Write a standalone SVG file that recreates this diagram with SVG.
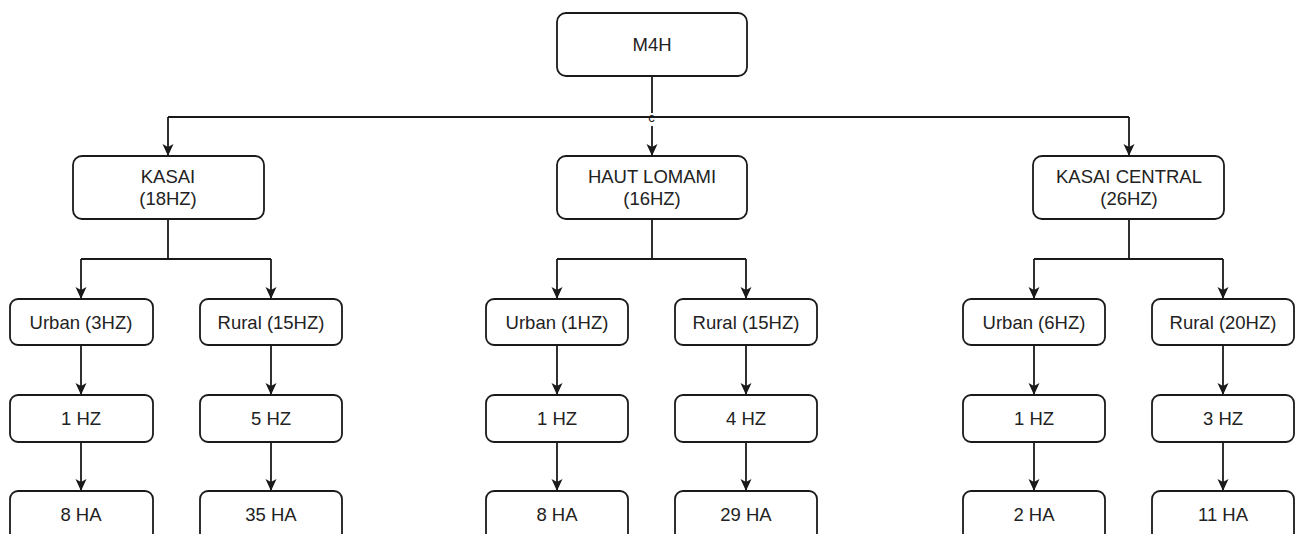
<svg xmlns="http://www.w3.org/2000/svg" width="1296" height="534" viewBox="0 0 1296 534">
<defs>
<style>
.box{fill:#fff;stroke:#1a1a1a;stroke-width:1.8}
.t{font-family:"Liberation Sans",Arial,sans-serif;font-size:18.5px;fill:#222;text-anchor:middle}
.ln{fill:none;stroke:#1a1a1a;stroke-width:1.8}
.ar{fill:none;stroke:#1a1a1a;stroke-width:1.8;marker-end:url(#ah)}
</style>
<marker id="ah" viewBox="0 0 12 12" refX="11" refY="6" markerWidth="12" markerHeight="12" markerUnits="userSpaceOnUse" orient="auto">
<path d="M0,0.5 L12,6 L0,11.5 L3,6 Z" fill="#1a1a1a"/>
</marker>
</defs>
<rect width="1296" height="534" fill="#fff"/>
<g id="connectors">
<path class="ln" d="M652,76 V113 M168,117 H1129"/>
<path class="ar" d="M168,117 V155"/>
<path class="ar" d="M652,126 V155"/>
<path class="ar" d="M1129,117 V155"/>
<path class="ln" d="M168,219 V259 M81,259 H271"/>
<path class="ar" d="M81,259 V298"/>
<path class="ar" d="M271,259 V298"/>
<path class="ln" d="M652,219 V259 M557,259 H746"/>
<path class="ar" d="M557,259 V298"/>
<path class="ar" d="M746,259 V298"/>
<path class="ln" d="M1129,219 V259 M1034,259 H1223"/>
<path class="ar" d="M1034,259 V298"/>
<path class="ar" d="M1223,259 V298"/>
<path class="ar" d="M81,345 V394"/>
<path class="ar" d="M271,345 V394"/>
<path class="ar" d="M557,345 V394"/>
<path class="ar" d="M746,345 V394"/>
<path class="ar" d="M1034,345 V394"/>
<path class="ar" d="M1223,345 V394"/>
<path class="ar" d="M81,442 V490"/>
<path class="ar" d="M271,442 V490"/>
<path class="ar" d="M557,442 V490"/>
<path class="ar" d="M746,442 V490"/>
<path class="ar" d="M1034,442 V490"/>
<path class="ar" d="M1223,442 V490"/>
<text x="651.5" y="122" style="font-family:'Liberation Sans',Arial,sans-serif;font-size:13px;fill:#1a1a1a;text-anchor:middle">c</text>
</g>
<g id="m4h"><rect class="box" x="557" y="13" width="190" height="63" rx="9"/><text class="t" x="652" y="51">M4H</text></g>
<g id="kasai"><rect class="box" x="73" y="156" width="191" height="63" rx="9"/><text class="t" x="168" y="183">KASAI</text><text class="t" x="168" y="205">(18HZ)</text></g>
<g id="haut-lomami"><rect class="box" x="557" y="156" width="190" height="63" rx="9"/><text class="t" x="652" y="183">HAUT LOMAMI</text><text class="t" x="652" y="205">(16HZ)</text></g>
<g id="kasai-central"><rect class="box" x="1033" y="156" width="191" height="63" rx="9"/><text class="t" x="1129" y="183">KASAI CENTRAL</text><text class="t" x="1129" y="205">(26HZ)</text></g>
<g id="k-urban"><rect class="box" x="10" y="299" width="143" height="46" rx="8"/><text class="t" x="81" y="329">Urban (3HZ)</text></g>
<g id="k-rural"><rect class="box" x="200" y="299" width="142" height="46" rx="8"/><text class="t" x="271" y="329">Rural (15HZ)</text></g>
<g id="h-urban"><rect class="box" x="486" y="299" width="142" height="46" rx="8"/><text class="t" x="557" y="329">Urban (1HZ)</text></g>
<g id="h-rural"><rect class="box" x="675" y="299" width="142" height="46" rx="8"/><text class="t" x="746" y="329">Rural (15HZ)</text></g>
<g id="c-urban"><rect class="box" x="963" y="299" width="142" height="46" rx="8"/><text class="t" x="1034" y="329">Urban (6HZ)</text></g>
<g id="c-rural"><rect class="box" x="1152" y="299" width="142" height="46" rx="8"/><text class="t" x="1223" y="329">Rural (20HZ)</text></g>
<g id="k-u-hz"><rect class="box" x="10" y="395" width="143" height="47" rx="8"/><text class="t" x="81" y="425">1 HZ</text></g>
<g id="k-r-hz"><rect class="box" x="200" y="395" width="142" height="47" rx="8"/><text class="t" x="271" y="425">5 HZ</text></g>
<g id="h-u-hz"><rect class="box" x="486" y="395" width="142" height="47" rx="8"/><text class="t" x="557" y="425">1 HZ</text></g>
<g id="h-r-hz"><rect class="box" x="675" y="395" width="142" height="47" rx="8"/><text class="t" x="746" y="425">4 HZ</text></g>
<g id="c-u-hz"><rect class="box" x="963" y="395" width="142" height="47" rx="8"/><text class="t" x="1034" y="425">1 HZ</text></g>
<g id="c-r-hz"><rect class="box" x="1152" y="395" width="142" height="47" rx="8"/><text class="t" x="1223" y="425">3 HZ</text></g>
<g id="k-u-ha"><rect class="box" x="10" y="491" width="143" height="50" rx="8"/><text class="t" x="81" y="521">8 HA</text></g>
<g id="k-r-ha"><rect class="box" x="200" y="491" width="142" height="50" rx="8"/><text class="t" x="271" y="521">35 HA</text></g>
<g id="h-u-ha"><rect class="box" x="486" y="491" width="142" height="50" rx="8"/><text class="t" x="557" y="521">8 HA</text></g>
<g id="h-r-ha"><rect class="box" x="675" y="491" width="142" height="50" rx="8"/><text class="t" x="746" y="521">29 HA</text></g>
<g id="c-u-ha"><rect class="box" x="963" y="491" width="142" height="50" rx="8"/><text class="t" x="1034" y="521">2 HA</text></g>
<g id="c-r-ha"><rect class="box" x="1152" y="491" width="142" height="50" rx="8"/><text class="t" x="1223" y="521">11 HA</text></g>
</svg>
